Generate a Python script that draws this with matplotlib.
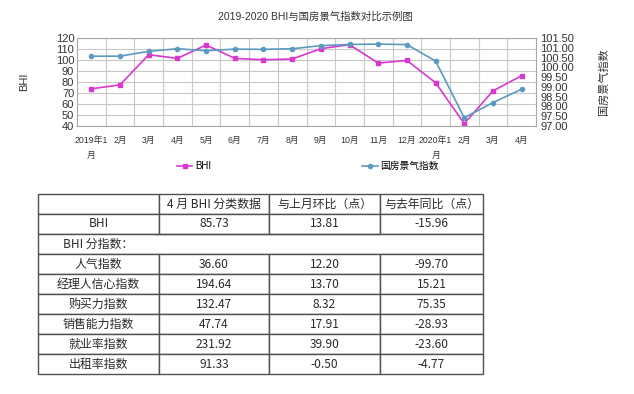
import matplotlib
matplotlib.use('Agg')
import matplotlib.pyplot as plt
import numpy as np

plt.rcParams['font.family'] = ['Liberation Sans', 'Noto Sans CJK SC', 'DejaVu Sans']

# chart data
months = ['2019年1\n月', '2月', '3月', '4月', '5月', '6月', '7月', '8月',
          '9月', '10月', '11月', '12月', '2020年1\n月', '2月', '3月', '4月']
bhi = [73.8, 77.4, 104.8, 101.5, 113.6, 101.5, 100.2, 100.9,
       110.3, 113.9, 97.2, 99.6, 79.3, 42.2, 71.92, 85.73]
housing = [100.57, 100.57, 100.82, 100.95, 100.85, 100.93, 100.92, 100.95,
           101.11, 101.17, 101.19, 101.16, 100.32, 97.42, 98.20, 98.88]

# table data
col_heads = ['', '4 月 BHI 分类数据', '与上月环比（点）', '与去年同比（点）']
row_names = ['BHI', 'BHI 分指数：', '人气指数', '经理人信心指数', '购买力指数',
             '销售能力指数', '就业率指数', '出租率指数']
april_vals = ['85.73', '', '36.60', '194.64', '132.47', '47.74', '231.92', '91.33']
mom_vals = ['13.81', '', '12.20', '13.70', '8.32', '17.91', '39.90', '-0.50']
yoy_vals = ['-15.96', '', '-99.70', '15.21', '75.35', '-28.93', '-23.60', '-4.77']

fig = plt.figure(figsize=(6.34, 3.94), dpi=100)

ax = fig.add_axes([77/634, 1-126/394, 459/634, 88/394])
x = np.arange(len(months))
l1, = ax.plot(x, bhi, '-', color='#d838d0', lw=1.2, marker='s', ms=3,
              label='BHI')
ax.set_ylim(40, 120)
ax.set_yticks(range(40, 121, 10))
ax.set_xlim(-0.5, len(months) - 0.5)
ax.set_xticks(x)
ax.set_xticklabels(months, fontsize=6.3, color='#333333', linespacing=1.9,
                   va='top')
ax.set_xticks(np.arange(0.5, len(months) - 1, 1), minor=True)
ax.tick_params(axis='x', which='both', length=0, pad=7)
ax.tick_params(axis='y', length=0, labelsize=8, labelcolor='#333333', pad=2)
ax.grid(True, axis='y', color='#c8c8c8', lw=0.8)
ax.grid(True, axis='x', which='minor', color='#c8c8c8', lw=0.8)
for s in ax.spines.values():
    s.set_color('#a8a8a8')
    s.set_linewidth(0.8)
ax.set_ylabel('BHI', fontsize=8, color='#333333', labelpad=19)

ax2 = ax.twinx()
l2, = ax2.plot(x, housing, '-', color='#5b9bc0', lw=1.2, marker='o', ms=3,
               label='国房景气指数')
ax2.set_ylim(97, 101.5)
ax2.set_yticks(np.arange(97, 101.51, 0.5))
ax2.set_yticklabels(['%.2f' % v for v in np.arange(97, 101.51, 0.5)])
ax2.tick_params(axis='y', length=0, labelsize=8, labelcolor='#333333', pad=3)
for s in ax2.spines.values():
    s.set_visible(False)
ax2.set_ylabel('国房景气指数', fontsize=8, color='#333333', labelpad=18)

fig.text(315/634, 1-17/394, '2019-2020 BHI与国房景气指数对比示例图',
         ha='center', va='center', fontsize=7.5, color='#333333')

fig.legend([l1, l2], ['BHI', '国房景气指数'], ncol=2, frameon=False,
           loc='center', bbox_to_anchor=(308/634, 1-166/394), fontsize=7,
           handlelength=1.6, columnspacing=15.5, handletextpad=0.3)

# table
tax = fig.add_axes([38/634, 1-374/394, 445/634, 180/394])
tax.axis('off')
cells = [col_heads]
for i in range(len(row_names)):
    cells.append([row_names[i], april_vals[i], mom_vals[i], yoy_vals[i]])
widths = np.array([121, 110, 111, 103], dtype=float)
tbl = tax.table(cellText=cells, colWidths=list(widths / widths.sum()),
                bbox=[0, 0, 1, 1], cellLoc='center')
tbl.auto_set_font_size(False)
for (r, c), cell in tbl.get_celld().items():
    cell.set_edgecolor('#505050')
    cell.set_linewidth(1.0)
    cell.get_text().set_fontsize(8.6)
    cell.get_text().set_color('#2a2a2a')
    cell.get_text().set_fontfamily(['Noto Sans CJK SC', 'DejaVu Sans'])
    if r == 2:
        cell.visible_edges = {0: 'BLT', 3: 'BRT'}.get(c, 'BT')

fig.savefig('out.png', dpi=100)
